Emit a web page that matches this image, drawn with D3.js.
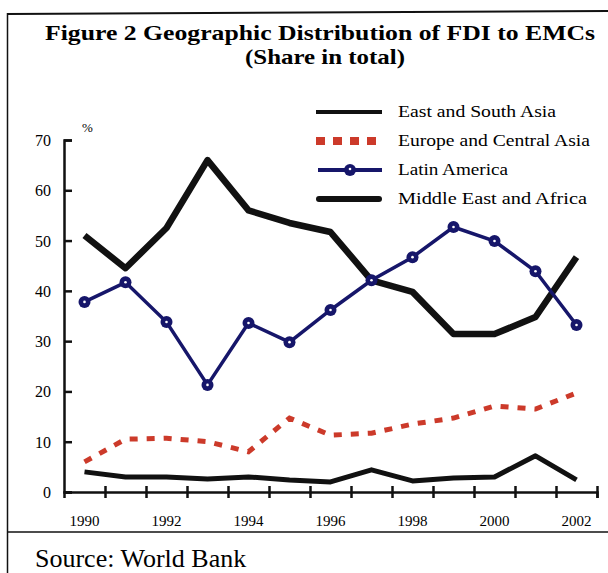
<!DOCTYPE html>
<html>
<head>
<meta charset="utf-8">
<script src="https://cdn.jsdelivr.net/npm/d3@7/dist/d3.min.js"></script>
<style>
  body { margin: 0; background: #fff; }
  svg { display: block; font-family: "Liberation Serif", "DejaVu Serif", serif; }
</style>
</head>
<body>
<div id="graph_container"></div>
<script>
// Data (share in total, %)
var years = [1990, 1991, 1992, 1993, 1994, 1995, 1996, 1997, 1998, 1999, 2000, 2001, 2002];
var eastSouthAsia   = [51, 44.5, 52.5, 66, 56, 53.5, 51.7, 42.1, 39.8, 31.4, 31.4, 34.8, 46.7];
var europeCentral   = [6, 10.5, 10.7, 10, 8, 14.7, 11.3, 11.7, 13.5, 14.7, 17.1, 16.5, 19.7];
var latinAmerica    = [37.8, 41.7, 33.8, 21.3, 33.6, 29.8, 36.2, 42.1, 46.7, 52.7, 49.9, 43.9, 33.2];
var middleEastAfr   = [4, 3, 3, 2.6, 3, 2.4, 2, 4.4, 2.2, 2.8, 3, 7.2, 2.4];
var yTicks = [0, 10, 20, 30, 40, 50, 60, 70];
var xLabels = [1990, 1992, 1994, 1996, 1998, 2000, 2002];
var seriesNames = ["East and South Asia", "Europe and Central Asia", "Latin America", "Middle East and  Africa"];

createGraph();

function createGraph() {
    var frame_width  = 608,
        frame_height = 573,
        margin = {top: 140, right: 11, bottom: 81, left: 64},
        width  = frame_width - margin.left - margin.right,
        height = frame_height - margin.top - margin.bottom;

    var navy = "#16166a",
        red  = "#cc3a2a";

    var svg = d3.select("#graph_container").append("svg")
        .attr("width", frame_width)
        .attr("height", frame_height);

    // frame lines
    svg.append("line").attr("x1", 7).attr("y1", 14).attr("x2", 608).attr("y2", 11)
        .attr("stroke", "#111").attr("stroke-width", 2);
    svg.append("line").attr("x1", 7.5).attr("y1", 13).attr("x2", 7.5).attr("y2", 573)
        .attr("stroke", "#111").attr("stroke-width", 1.5);
    svg.append("line").attr("x1", 7).attr("y1", 532).attr("x2", 608).attr("y2", 532)
        .attr("stroke", "#111").attr("stroke-width", 1.5);

    // titles
    svg.append("text")
        .attr("x", 45).attr("y", 40)
        .attr("font-size", 21).attr("font-weight", "bold")
        .attr("textLength", 550).attr("lengthAdjust", "spacingAndGlyphs")
        .text("Figure 2  Geographic Distribution of FDI to EMCs");
    svg.append("text")
        .attr("x", 245).attr("y", 64)
        .attr("font-size", 21).attr("font-weight", "bold")
        .attr("textLength", 160).attr("lengthAdjust", "spacingAndGlyphs")
        .text("(Share in total)");

    svg.append("text")
        .attr("x", 35).attr("y", 567)
        .attr("font-size", 26)
        .text("Source: World Bank");

    var g = svg.append("g")
        .attr("transform", "translate(" + margin.left + "," + margin.top + ")");

    var x = d3.scaleBand()
        .domain(years)
        .range([0, width]);
    var y = d3.scaleLinear()
        .domain([0, 70])
        .range([height, 0]);

    // y axis
    var yAxis = g.append("g")
        .call(d3.axisRight(y).tickValues(yTicks).tickSize(8).tickFormat(""));
    yAxis.select(".domain").attr("stroke-width", 2.5).attr("stroke", "#111");
    yAxis.selectAll(".tick line").attr("stroke-width", 2.5).attr("stroke", "#111");

    g.selectAll(".ylab")
        .data(yTicks)
        .enter().append("text")
        .attr("class", "ylab")
        .attr("x", -13)
        .attr("y", function(d) { return y(d) + 6; })
        .attr("text-anchor", "end")
        .attr("font-size", 16)
        .text(function(d) { return d; });

    g.append("text")
        .attr("x", 18).attr("y", -8)
        .attr("font-size", 13)
        .text("%");

    // x axis: ticks at category boundaries
    var boundaries = years.map(function(d) { return x(d) + x.bandwidth(); });
    var xAxisScale = d3.scaleLinear().domain([0, width]).range([0, width]);
    var xAxis = g.append("g")
        .attr("transform", "translate(0," + height + ")")
        .call(d3.axisBottom(xAxisScale).tickValues(boundaries).tickSize(6).tickFormat(""));
    xAxis.select(".domain").attr("stroke-width", 2.5).attr("stroke", "#111");
    xAxis.selectAll(".tick line").attr("stroke-width", 2.5).attr("stroke", "#111")
        .attr("y1", -6);

    g.selectAll(".xlab")
        .data(xLabels)
        .enter().append("text")
        .attr("class", "xlab")
        .attr("x", function(d) { return x(d) + x.bandwidth() / 2; })
        .attr("y", height + 34)
        .attr("text-anchor", "middle")
        .attr("font-size", 15)
        .text(function(d) { return d; });

    var line = d3.line()
        .x(function(d, i) { return x(years[i]) + x.bandwidth() / 2; })
        .y(function(d) { return y(d); });

    g.append("path").datum(middleEastAfr)
        .attr("fill", "none").attr("stroke", "#111").attr("stroke-width", 5)
        .attr("stroke-linejoin", "round")
        .attr("d", line);

    g.append("path").datum(europeCentral)
        .attr("fill", "none").attr("stroke", red).attr("stroke-width", 5)
        .attr("stroke-dasharray", "8,9")
        .attr("d", line);

    g.append("path").datum(eastSouthAsia)
        .attr("fill", "none").attr("stroke", "#111").attr("stroke-width", 6.5)
        .attr("stroke-linejoin", "round")
        .attr("d", line);

    g.append("path").datum(latinAmerica)
        .attr("fill", "none").attr("stroke", navy).attr("stroke-width", 3.5)
        .attr("d", line);

    g.selectAll(".lam")
        .data(latinAmerica)
        .enter().append("circle")
        .attr("class", "lam")
        .attr("cx", function(d, i) { return x(years[i]) + x.bandwidth() / 2; })
        .attr("cy", function(d) { return y(d); })
        .attr("r", 6)
        .attr("fill", navy);
    g.selectAll(".lamdot")
        .data(latinAmerica)
        .enter().append("circle")
        .attr("class", "lamdot")
        .attr("cx", function(d, i) { return x(years[i]) + x.bandwidth() / 2; })
        .attr("cy", function(d) { return y(d); })
        .attr("r", 1.3)
        .attr("fill", "#fff");

    // Legend
    var legendWidths = [158, 192, 110, 189];
    var legend = svg.append("g").attr("transform", "translate(316,112)");
    var rowH = 29;
    var items = legend.selectAll(".item")
        .data(seriesNames)
        .enter().append("g")
        .attr("class", "item")
        .attr("transform", function(d, i) { return "translate(0," + (i * rowH) + ")"; });

    items.append("text")
        .attr("x", 82).attr("y", 5)
        .attr("font-size", 16)
        .attr("textLength", function(d, i) { return legendWidths[i]; })
        .attr("lengthAdjust", "spacingAndGlyphs")
        .text(function(d) { return d; });

    legend.append("line").attr("x1", 0).attr("x2", 66).attr("y1", 0).attr("y2", 0)
        .attr("stroke", "#111").attr("stroke-width", 4);
    legend.append("line").attr("x1", 0).attr("x2", 66).attr("y1", rowH).attr("y2", rowH)
        .attr("stroke", red).attr("stroke-width", 8).attr("stroke-dasharray", "9,8");
    legend.append("line").attr("x1", 2).attr("x2", 66).attr("y1", rowH * 2).attr("y2", rowH * 2)
        .attr("stroke", navy).attr("stroke-width", 4);
    legend.append("circle").attr("cx", 34).attr("cy", rowH * 2).attr("r", 6).attr("fill", navy);
    legend.append("circle").attr("cx", 34).attr("cy", rowH * 2 - 1).attr("r", 1.3).attr("fill", "#fff");
    legend.append("line").attr("x1", 3).attr("x2", 63).attr("y1", rowH * 3).attr("y2", rowH * 3)
        .attr("stroke", "#111").attr("stroke-width", 6).attr("stroke-linecap", "round");
}
</script>
</body>
</html>
